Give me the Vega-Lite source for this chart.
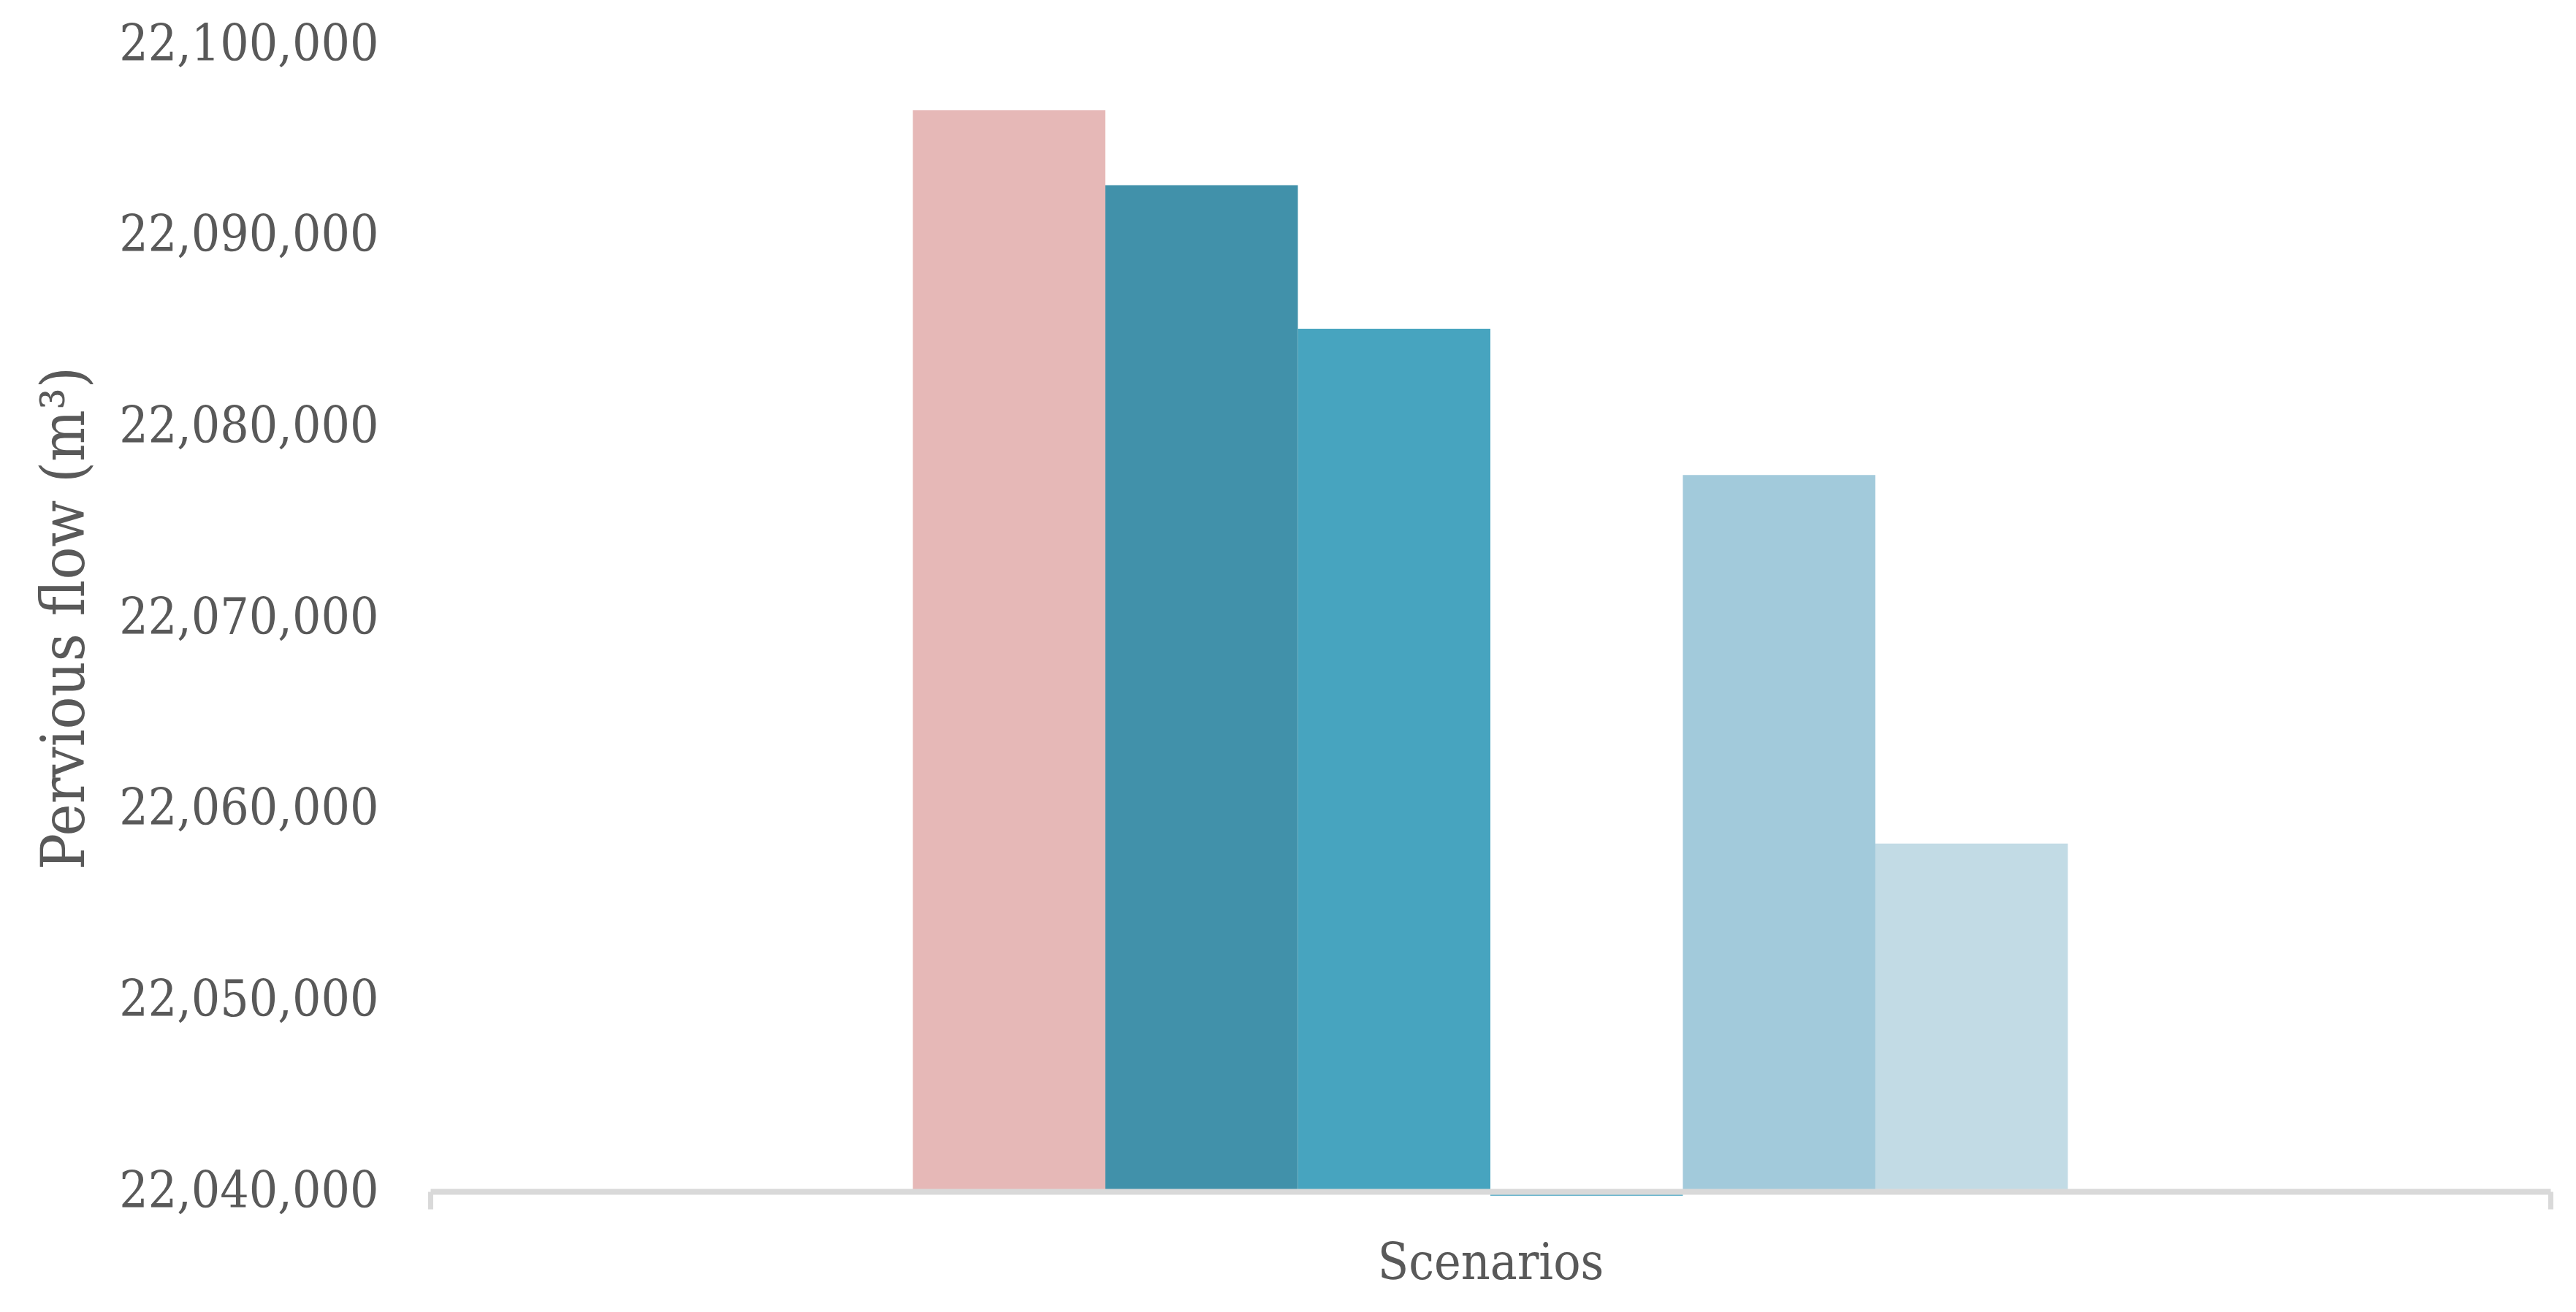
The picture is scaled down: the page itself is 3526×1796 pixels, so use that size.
{
  "$schema": "https://vega.github.io/schema/vega-lite/v6.json",
  "autosize": "none",
  "width": 2902,
  "height": 1570,
  "padding": {"left": 589, "top": 61, "right": 35, "bottom": 165},
  "background": "white",
  "config": {
    "view": {"stroke": null},
    "font": "DejaVu Serif Condensed, Liberation Serif, serif"
  },
  "data": {
    "values": [
      {"category": "Scenarios", "series": "S1", "flow": 22096560},
      {"category": "Scenarios", "series": "S2", "flow": 22092640},
      {"category": "Scenarios", "series": "S3", "flow": 22085130},
      {"category": "Scenarios", "series": "S4", "flow": 22039770},
      {"category": "Scenarios", "series": "S5", "flow": 22077480},
      {"category": "Scenarios", "series": "S6", "flow": 22058200}
    ]
  },
  "mark": {"type": "bar", "clip": false},
  "encoding": {
    "x": {
      "field": "category",
      "type": "nominal",
      "scale": {"paddingInner": 0, "paddingOuter": 0},
      "axis": {
        "title": "Scenarios",
        "labels": false,
        "zindex": 1,
        "domainColor": "#d9d9d9",
        "domainWidth": 8,
        "ticks": true,
        "tickBand": "extent",
        "tickColor": "#d9d9d9",
        "tickWidth": 7,
        "tickSize": 24,
        "titleFont": "DejaVu Serif Condensed, Liberation Serif, serif",
        "titleFontSize": 69,
        "titleFontWeight": "normal",
        "titleColor": "#595959",
        "titlePadding": 37
      }
    },
    "xOffset": {
      "field": "series",
      "type": "nominal",
      "scale": {
        "domain": ["L1", "L2", "S1", "S2", "S3", "S4", "S5", "S6", "R1", "R2"],
        "paddingInner": 0,
        "paddingOuter": 0.507
      }
    },
    "y": {
      "field": "flow",
      "type": "quantitative",
      "scale": {"domain": [22040000, 22100000], "nice": false, "zero": false},
      "axis": {
        "title": "Pervious flow (m³)",
        "values": [22040000, 22050000, 22060000, 22070000, 22080000, 22090000, 22100000],
        "format": ",.0f",
        "grid": false,
        "domain": false,
        "ticks": false,
        "labelLimit": 2000,
        "labelFont": "DejaVu Serif Condensed, Liberation Serif, serif",
        "labelFontSize": 69,
        "labelColor": "#595959",
        "labelPadding": 71,
        "titleFont": "DejaVu Serif Condensed, Liberation Serif, serif",
        "titleFontSize": 83,
        "titleFontWeight": "normal",
        "titleColor": "#595959",
        "titlePadding": 258
      }
    },
    "y2": {"datum": 22040000},
    "color": {
      "field": "series",
      "type": "nominal",
      "scale": {
        "domain": ["S1", "S2", "S3", "S4", "S5", "S6"],
        "range": ["#e6b8b7", "#4191aa", "#47a4bf", "#6bb5cc", "#a2cadb", "#c2dbe5"]
      },
      "legend": null
    }
  }
}
